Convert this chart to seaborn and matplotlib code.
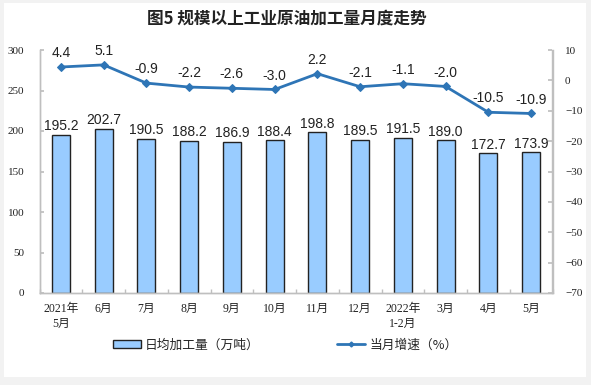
import matplotlib
matplotlib.use("Agg")
import matplotlib.pyplot as plt
import matplotlib.patches as mpatches
from matplotlib.lines import Line2D
import numpy as np
import pandas as pd
import seaborn as sns

categories = ["2021年\n5月", "6月", "7月", "8月", "9月", "10月", "11月", "12月",
              "2022年\n1-2月", "3月", "4月", "5月"]
output_values = [195.2, 202.7, 190.5, 188.2, 186.9, 188.4, 198.8, 189.5, 191.5, 189.0, 172.7, 173.9]
growth_values = [4.4, 5.1, -0.9, -2.2, -2.6, -3.0, 2.2, -2.1, -1.1, -2.0, -10.5, -10.9]
left_ticks = [0, 50, 100, 150, 200, 250, 300]
right_ticks = [10, 0, -10, -20, -30, -40, -50, -60, -70]

title = "图5 规模以上工业原油加工量月度走势"
bar_legend = "日均加工量（万吨）"
line_legend = "当月增速（%）"

sns.set_theme(style="white")
plt.rcParams['font.family'] = ['Liberation Serif', 'Noto Sans CJK SC']

bar_color = "#99CCFF"
line_color = "#2E75B6"
spine_color = "#BFBFBF"

df = pd.DataFrame({"cat": categories, "out": output_values, "growth": growth_values})

fig = plt.figure(figsize=(5.91, 3.85), dpi=100)
fig.patch.set_facecolor("#F2F2F2")
fig.patches.append(mpatches.Rectangle((4 / 591, 8 / 385), 582 / 591, 374 / 385,
                                      transform=fig.transFigure, facecolor="white",
                                      edgecolor="none", zorder=-10))
ax = fig.add_axes([39.5 / 591, 92 / 385, 513 / 591, 243 / 385])
ax.set_facecolor("none")

sns.barplot(data=df, x="cat", y="out", ax=ax, color=bar_color, width=0.42,
            edgecolor="#222222", linewidth=1.0, saturation=1)
ax.set_ylim(0, 300)
ax.set_xlim(-0.5, len(categories) - 0.5)
ax.set_yticks(left_ticks)
ax.set_xlabel("")
ax.set_ylabel("")
for i, v in enumerate(output_values):
    ax.annotate(f"{v:.1f}", (i, v), xytext=(0, 1), textcoords="offset points",
                ha="center", va="bottom", fontsize=10, family="Liberation Sans",
                color="#222222")

ax2 = ax.twinx()
sns.lineplot(x=np.arange(len(categories)), y=growth_values, ax=ax2, color=line_color,
             linewidth=2, marker="D", markersize=4, markeredgecolor=line_color)
ax2.set_ylim(-70, 10)
ax2.set_yticks(right_ticks)
ax2.set_xlim(-0.5, len(categories) - 0.5)
for i, v in enumerate(growth_values):
    ax2.annotate(f"{v:.1f}", (i, v), xytext=(0, 5), textcoords="offset points",
                 ha="center", va="bottom", fontsize=10, family="Liberation Sans",
                 color="#222222")

for a in (ax, ax2):
    a.spines["top"].set_visible(False)
    for s in ("left", "right", "bottom"):
        a.spines[s].set_color(spine_color)
        a.spines[s].set_linewidth(1.0)

ax.tick_params(axis="y", direction="in", length=3, color=spine_color, labelsize=8,
               pad=11, labelcolor="#222222", left=True)
ax2.tick_params(axis="y", direction="in", length=3, color=spine_color, labelsize=8,
                pad=9, labelcolor="#222222", right=True)
ax.set_xticks(range(len(categories)))
ax.set_xticklabels(categories, fontsize=8.5, color="#222222", linespacing=1.35)
ax.tick_params(axis="x", which="major", length=0, pad=7)
ax.set_xticks(np.arange(-0.5, len(categories), 1.0), minor=True)
ax.tick_params(axis="x", which="minor", direction="in", length=3, color=spine_color,
               bottom=True)

fig.text(287 / 591, 1 - 19 / 385, title, ha="center", va="center", fontsize=12,
         family=["Noto Sans CJK SC"], fontweight="bold", color="#222222")

handles = [mpatches.Patch(facecolor=bar_color, edgecolor="#222222", linewidth=1.0),
           Line2D([0], [0], color=line_color, linewidth=2, marker="D", markersize=2.5)]
fig.legend(handles, [bar_legend, line_legend], loc="center", ncol=2,
           bbox_to_anchor=(285 / 591, 1 - 345 / 385), frameon=False,
           columnspacing=6.0, handlelength=2.2, handleheight=0.5, handletextpad=0.35,
           prop={"family": ["Noto Sans CJK SC"], "size": 9.2})

fig.savefig("out.png", dpi=100, facecolor=fig.get_facecolor())
